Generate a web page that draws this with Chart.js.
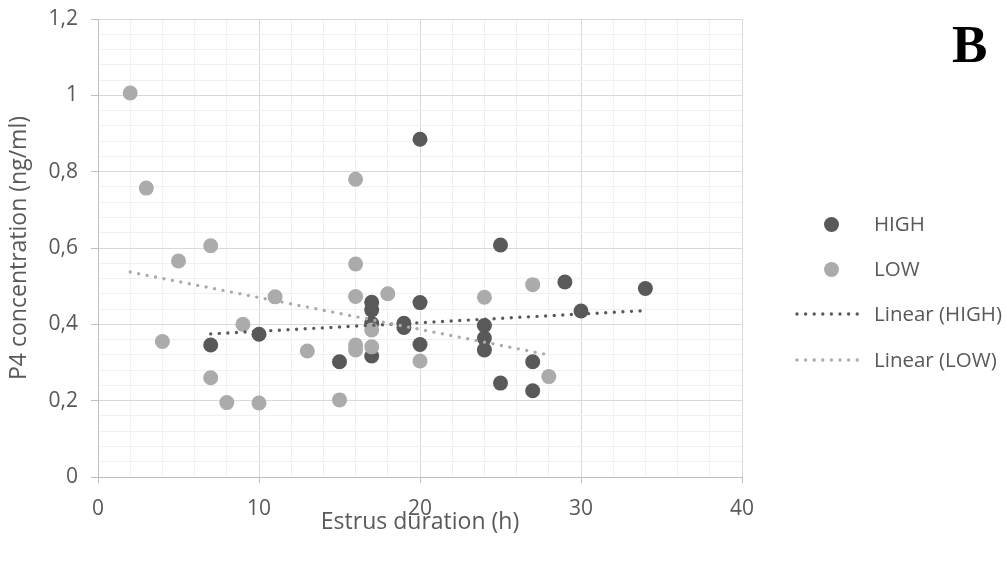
<!DOCTYPE html>
<html>
<head>
<meta charset="utf-8">
<script src="https://cdn.jsdelivr.net/npm/chart.js@4"></script>
<style>
    html, body { margin: 0; padding: 0; background: #fff; }
    #wrap { position: relative; width: 1006px; height: 561px; overflow: hidden; }
    #chart { position: absolute; left: 0; top: 0; }
    .legend { position: absolute; left: 0; top: 0; font-family: "Open Sans", sans-serif; font-size: 20.5px; color: #595959; }
    .legend .row { position: absolute; white-space: nowrap; }
    .legend .dot { position: absolute; width: 15px; height: 15px; border-radius: 50%; }
    .legend .txt { position: absolute; line-height: 22px; }
    #panel { position: absolute; left: 952px; top: 14px; font-family: "Liberation Serif", "DejaVu Serif", serif; font-weight: bold; font-size: 53px; color: #000; }
</style>
</head>
<body>
<div id="wrap">
    <canvas id="chart" width="1006" height="561"></canvas>
    <div class="legend" id="legend"></div>
    <div id="panel">B</div>
</div>
<script>
// Data
const highX = [7, 10, 15, 17, 17, 17, 17, 19, 19, 20, 20, 20, 24, 24, 24, 25, 25, 27, 27, 29, 30, 34];
const highY = [0.346, 0.374, 0.302, 0.458, 0.438, 0.402, 0.317, 0.403, 0.392, 0.885, 0.457, 0.347, 0.397, 0.364, 0.333, 0.608, 0.246, 0.302, 0.226, 0.511, 0.435, 0.494];

const lowX = [2, 3, 4, 5, 7, 7, 8, 9, 10, 11, 13, 15, 16, 16, 16, 16, 16, 17, 17, 18, 20, 24, 27, 28];
const lowY = [1.006, 0.757, 0.355, 0.566, 0.606, 0.260, 0.195, 0.400, 0.194, 0.472, 0.330, 0.202, 0.780, 0.558, 0.473, 0.346, 0.333, 0.385, 0.341, 0.480, 0.304, 0.471, 0.504, 0.263];

// trend line end points (Excel linear trendlines)
const trendHighX = [7, 34];
const trendHighY = [0.375, 0.436];
const trendLowX = [2, 28];
const trendLowY = [0.537, 0.320];

const xTicks = [0, 10, 20, 30, 40];
const yTicks = [0, 0.2, 0.4, 0.6, 0.8, 1, 1.2];

const seriesNames = ['HIGH', 'LOW', 'Linear (HIGH)', 'Linear (LOW)'];

const darkColor = '#595959';
const lightColor = '#ababab';
const textColor = '#595959';
const fontFamily = '"Open Sans", sans-serif';

function toPoints(xs, ys) {
    return xs.map((x, i) => ({ x: x, y: ys[i] }));
}

function isMajor(v, step) {
    return Math.abs(v / step - Math.round(v / step)) < 1e-6;
}

function fmt(v) {
    return String(Math.round(v * 10) / 10).replace('.', ',');
}

const ctx = document.getElementById('chart').getContext('2d');
new Chart(ctx, {
    type: 'scatter',
    data: {
        datasets: [
            {
                label: seriesNames[0],
                data: toPoints(highX, highY),
                backgroundColor: darkColor,
                borderColor: darkColor,
                borderWidth: 0,
                pointRadius: 7.5,
                order: 3
            },
            {
                label: seriesNames[1],
                data: toPoints(lowX, lowY),
                backgroundColor: lightColor,
                borderColor: lightColor,
                borderWidth: 0,
                pointRadius: 7.5,
                order: 2
            },
            {
                type: 'line',
                label: seriesNames[2],
                data: toPoints(trendHighX, trendHighY),
                borderColor: darkColor,
                borderWidth: 3.4,
                borderDash: [0, 8.6],
                borderCapStyle: 'round',
                pointRadius: 0,
                showLine: true,
                fill: false,
                order: 1
            },
            {
                type: 'line',
                label: seriesNames[3],
                data: toPoints(trendLowX, trendLowY),
                borderColor: lightColor,
                borderWidth: 3.4,
                borderDash: [0, 8.6],
                borderCapStyle: 'round',
                pointRadius: 0,
                showLine: true,
                fill: false,
                order: 0
            }
        ]
    },
    options: {
        responsive: false,
        devicePixelRatio: 1,
        animation: false,
        layout: {
            padding: { left: 0, top: 19, right: 264, bottom: 0 }
        },
        plugins: {
            legend: { display: false },
            tooltip: { enabled: false }
        },
        scales: {
            x: {
                type: 'linear',
                min: 0,
                max: 40,
                afterFit: (scale) => {
                    scale.height = 84;
                    scale.paddingLeft = 0;
                    scale.paddingRight = 0;
                },
                ticks: {
                    stepSize: 2,
                    autoSkip: false,
                    maxRotation: 0,
                    padding: 13,
                    color: textColor,
                    font: { family: fontFamily, size: 21 },
                    callback: (v) => (xTicks.includes(v) ? String(v) : '')
                },
                grid: {
                    color: (c) => (c.tick && isMajor(c.tick.value, 10) ? '#d9d9d9' : '#f0f0f0'),
                    tickColor: (c) => (c.tick && isMajor(c.tick.value, 10) ? '#bfbfbf' : 'rgba(0,0,0,0)'),
                    tickLength: 6,
                    lineWidth: 1
                },
                border: { color: '#bfbfbf', width: 1 },
                title: {
                    display: true,
                    text: 'Estrus duration (h)',
                    color: textColor,
                    font: { family: fontFamily, size: 23 },
                    padding: { top: 0, bottom: 25 }
                }
            },
            y: {
                type: 'linear',
                min: 0,
                max: 1.2,
                afterFit: (scale) => {
                    scale.width = 98;
                    scale.paddingTop = 0;
                    scale.paddingBottom = 0;
                },
                ticks: {
                    stepSize: 0.04,
                    autoSkip: false,
                    padding: 13,
                    color: textColor,
                    font: { family: fontFamily, size: 21 },
                    callback: (v) => (yTicks.some((t) => Math.abs(t - v) < 1e-6) ? fmt(v) : '')
                },
                grid: {
                    color: (c) => (c.tick && isMajor(c.tick.value, 0.2) ? '#d9d9d9' : '#f0f0f0'),
                    tickColor: (c) => (c.tick && isMajor(c.tick.value, 0.2) ? '#bfbfbf' : 'rgba(0,0,0,0)'),
                    tickLength: 7,
                    lineWidth: 1
                },
                border: { color: '#bfbfbf', width: 1 },
                title: {
                    display: true,
                    text: 'P4 concentration (ng/ml)',
                    color: textColor,
                    font: { family: fontFamily, size: 23 },
                    padding: { top: 6, bottom: 0 }
                }
            }
        }
    }
});

// Legend on the right
const legend = document.getElementById('legend');
const legendRows = [
    { name: seriesNames[0], kind: 'dot', color: darkColor, y: 224 },
    { name: seriesNames[1], kind: 'dot', color: lightColor, y: 269 },
    { name: seriesNames[2], kind: 'line', color: darkColor, y: 314 },
    { name: seriesNames[3], kind: 'line', color: lightColor, y: 360 }
];
legendRows.forEach(r => {
    const row = document.createElement('div');
    row.className = 'row';
    let sample = '';
    if (r.kind === 'dot') {
        sample = `<div class="dot" style="left:${824}px;top:${r.y - 7.5}px;background:${r.color}"></div>`;
    } else {
        sample = `<svg style="position:absolute;left:794px;top:${r.y - 3}px" width="68" height="6">
            <line x1="3" y1="3" x2="64" y2="3" stroke="${r.color}" stroke-width="3.4" stroke-linecap="round" stroke-dasharray="0 8.6"/></svg>`;
    }
    row.innerHTML = sample + `<div class="txt" style="left:874px;top:${r.y - 12}px">${r.name}</div>`;
    legend.appendChild(row);
});
</script>
</body>
</html>
